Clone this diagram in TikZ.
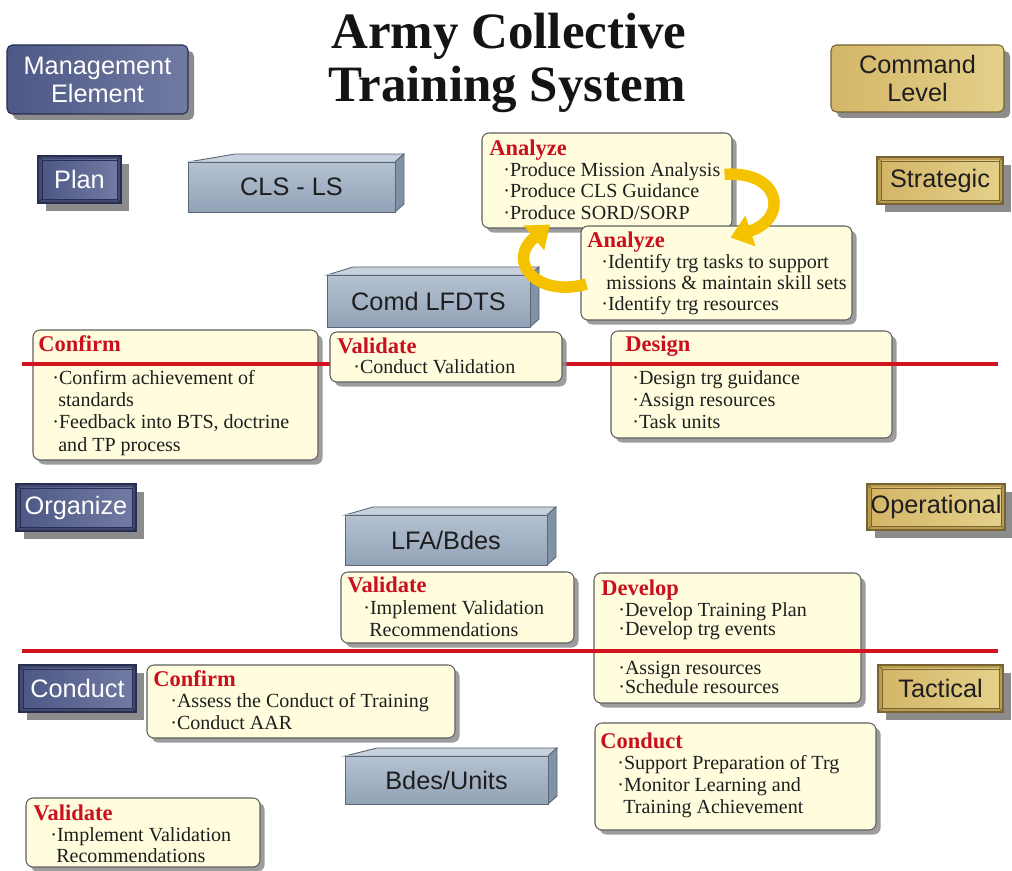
\documentclass[tikz,border=0pt]{standalone}
\usepackage{fontspec}
\setmainfont{Liberation Serif}
\setsansfont{Liberation Sans}
\usetikzlibrary{arrows.meta,fit,shadows,calc}
\definecolor{cNoteFill}{RGB}{255,253,222}
\definecolor{cNoteBord}{RGB}{95,95,95}
\definecolor{cHead}{RGB}{200,16,30}
\definecolor{cBody}{RGB}{30,30,30}
\definecolor{cLine}{RGB}{210,20,30}
\definecolor{cShadow}{RGB}{140,140,140}
\definecolor{cBlueDark}{RGB}{40,46,80}
\definecolor{cBlueEdge}{RGB}{66,74,112}
\definecolor{cBlueA}{RGB}{78,88,134}
\definecolor{cBlueB}{RGB}{112,122,162}
\definecolor{cGoldDark}{RGB}{120,100,50}
\definecolor{cGoldEdge}{RGB}{186,156,80}
\definecolor{cGoldA}{RGB}{212,182,104}
\definecolor{cGoldB}{RGB}{228,208,138}
\definecolor{cSlabTop}{RGB}{200,210,222}
\definecolor{cSlabA}{RGB}{180,194,210}
\definecolor{cSlabB}{RGB}{146,162,182}
\definecolor{cSlabSide}{RGB}{128,146,166}
\definecolor{cSlabEdge}{RGB}{92,102,116}
\definecolor{cArrow}{RGB}{245,194,0}
\definecolor{cTitle}{RGB}{20,20,20}
\tikzset{
  note/.style={draw=cNoteBord, fill=cNoteFill, rounded corners=4pt, line width=0.6pt, inner sep=0pt,
    drop shadow={shadow xshift=2.6pt, shadow yshift=-2.6pt, fill=cShadow, opacity=0.85}},
  hd/.style={anchor=base west, inner sep=0pt, text=cHead, font=\fontsize{12.8}{14}\selectfont\bfseries},
  bl/.style={anchor=base west, inner sep=0pt, text=cBody, font=\fontsize{11.4}{13}\selectfont},
  divider/.style={draw=cLine, line width=2.3pt},
  blueout/.style={fill=cBlueEdge, draw=cBlueDark, line width=0.6pt, inner sep=0pt},
  bluein/.style={left color=cBlueA, right color=cBlueB},
  blueedge/.style={draw=cBlueDark, line width=0.4pt},
  bluetxt/.style={text=white, align=center, font=\sffamily\fontsize{14.4}{16}\selectfont},
  goldout/.style={fill=cGoldEdge, draw=cGoldDark, line width=0.6pt, inner sep=0pt},
  goldin/.style={left color=cGoldA, right color=cGoldB},
  goldedge/.style={draw=cGoldDark, line width=0.4pt},
  goldtxt/.style={text=cBody, align=center, font=\sffamily\fontsize{14.4}{16}\selectfont},
  slabface/.style={top color=cSlabA, bottom color=cSlabB, draw=cSlabEdge, line width=0.5pt, inner sep=0pt},
  slabtxt/.style={text=cBody, font=\sffamily\fontsize{14.4}{16}\selectfont},
  yarrow/.style={draw=cArrow, line width=0.23cm, -{Triangle[width=0.62cm,length=0.42cm]}},
  titletxt/.style={anchor=base, text=cTitle, font=\fontsize{29}{31}\selectfont\bfseries}
}
% note box
\newcommand\notebox[5]{\node[note, fit={(#2,#3)(#4,#5)}] (#1) {};}
% bevelled label box: name, x1,y1,x2,y2, kind, text
\newcommand\bevelbox[7]{%
  \fill[cShadow] ({#2+8},{#3+8}) rectangle ({#4+8},{#5+8});
  \node[#6out, fit={(#2,#3)(#4,#5)}] (#1) {};
  \path[#6in] ({#2+4},{#3+4}) rectangle ({#4-4},{#5-4});
  \draw[#6edge] ({#2+4},{#3+4}) rectangle ({#4-4},{#5-4});
  \draw[#6edge] (#2,#3) -- ({#2+4},{#3+4}) (#4,#3) -- ({#4-4},{#3+4})
     (#2,#5) -- ({#2+4},{#5-4}) (#4,#5) -- ({#4-4},{#5-4});
  \node[#6txt] (#1t) at (#1.center) {#7};}
% slab: name, x1,y1,x2,y2, slant, text
\newcommand\slab[7]{%
  \filldraw[fill=cSlabTop, draw=cSlabEdge, line width=0.5pt] (#2,#3) -- ({#2+#6},{#3-8}) -- ({#4+9},{#3-8}) -- (#4,#3) -- cycle;
  \filldraw[fill=cSlabSide, draw=cSlabEdge, line width=0.5pt] (#4,#3) -- ({#4+9},{#3-8}) -- ({#4+9},{#5-8}) -- (#4,#5) -- cycle;
  \node[slabface, fit={(#2,#3)(#4,#5)}] (#1) {};
  \node[slabtxt] (#1t) at (#1.center) {#7};}
\begin{document}
\begin{tikzpicture}[x=0.02cm, y=-0.02cm]
\fill[white] (0,0) rectangle (1012,871);
\useasboundingbox (0,0) rectangle (1012,871);

% title
\node[titletxt] (title1) at (509,49) {Army Collective};
\node[titletxt] (title2) at (507,102) {Training System};

% header boxes
\fill[cShadow, rounded corners=3pt] (13,51) rectangle (194,120);
\node[fit={(7,45)(188,114)}, inner sep=0pt, rounded corners=3pt, draw=cBlueDark, line width=0.6pt,
  left color=cBlueA, right color=cBlueB] (mgmt) {};
\node[bluetxt] (mgmtt) at (mgmt.center) {Management\\Element};
\fill[cShadow, rounded corners=3pt] (837,51) rectangle (1010,118);
\node[fit={(831,45)(1004,112)}, inner sep=0pt, rounded corners=3pt, draw=cGoldDark, line width=0.6pt,
  left color=cGoldA, right color=cGoldB] (cmd) {};
\node[goldtxt] (cmdt) at (cmd.center) {Command\\Level};

% left / right labels
\bevelbox{plan}{38}{156}{121}{203}{blue}{Plan}
\bevelbox{organize}{16}{484}{136}{531}{blue}{Organize}
\bevelbox{conductl}{19}{665}{136}{712}{blue}{Conduct}
\bevelbox{strategic}{877}{157}{1003}{204}{gold}{Strategic}
\bevelbox{operational}{867}{484}{1005}{530}{gold}{Operational}
\bevelbox{tactical}{878}{665}{1003}{712}{gold}{Tactical}

% slabs
\slab{clsls}{188}{162}{395}{212}{47}{CLS - LS}
\slab{comd}{327}{275}{530}{327}{26}{Comd LFDTS}
\slab{lfa}{345}{515}{547}{565}{28}{LFA/Bdes}
\slab{bdes}{345}{756}{548}{804}{32}{Bdes/Units}

% note boxes
\notebox{an1}{482}{133}{732}{228}
\node[hd] (an1h) at (489,156) {Analyze};
\node[bl] (an1a) at (503,177) {·Produce Mission Analysis};
\node[bl] (an1b) at (503,198) {·Produce CLS Guidance};
\node[bl] (an1c) at (503,220) {·Produce SORD/SORP};

\notebox{an2}{581}{226}{852}{320}
\node[hd] (an2h) at (587,248) {Analyze};
\node[bl] (an2a) at (601,269) {·Identify trg tasks to support};
\node[bl] (an2b) at (606,290) {missions \& maintain skill sets};
\node[bl] (an2c) at (601,311) {·Identify trg resources};

\notebox{cf1}{33}{330}{318}{460}
\node[hd] (cf1h) at (38,352) {Confirm};
\node[bl] (cf1a) at (52,385) {·Confirm achievement of};
\node[bl] (cf1b) at (58,407) {standards};
\node[bl] (cf1c) at (52,429) {·Feedback into BTS, doctrine};
\node[bl] (cf1d) at (58,452) {and TP process};

\notebox{des}{611}{331}{892}{438}
\node[hd] (desh) at (625,352) {Design};
\node[bl] (desa) at (632,385) {·Design trg guidance};
\node[bl] (desb) at (632,407) {·Assign resources};
\node[bl] (desc) at (632,429) {·Task units};

\draw[divider] (22,364) -- (998,364);

\notebox{va1}{330}{332}{562}{382}
\node[hd] (va1h) at (337,354) {Validate};
\node[bl] (va1a) at (353,374) {·Conduct Validation};

\notebox{va2}{341}{572}{574}{643}
\node[hd] (va2h) at (347,593) {Validate};
\node[bl] (va2a) at (363,615) {·Implement Validation};
\node[bl] (va2b) at (369,637) {Recommendations};

\notebox{dev}{594}{573}{861}{703}
\node[hd] (devh) at (601,596) {Develop};
\node[bl] (deva) at (618,617) {·Develop Training Plan};
\node[bl] (devb) at (618,636) {·Develop trg events};
\node[bl] (devc) at (618,675) {·Assign resources};
\node[bl] (devd) at (618,694) {·Schedule resources};

\draw[divider] (22,651) -- (998,651);

\notebox{cf2}{147}{665}{455}{738}
\node[hd] (cf2h) at (153,687) {Confirm};
\node[bl] (cf2a) at (170,708) {·Assess the Conduct of Training};
\node[bl] (cf2b) at (170,730) {·Conduct AAR};

\notebox{cdr}{595}{723}{876}{830}
\node[hd] (cdrh) at (600,748) {Conduct};
\node[bl] (cdra) at (617,769) {·Support Preparation of Trg};
\node[bl] (cdrb) at (617,791) {·Monitor Learning and};
\node[bl] (cdrc) at (623,813) {Training Achievement};

\notebox{va3}{26}{798}{260}{867}
\node[hd] (va3h) at (33,821) {Validate};
\node[bl] (va3a) at (50,842) {·Implement Validation};
\node[bl] (va3b) at (56,863) {Recommendations};

% cycle arrows
\draw[yarrow] ($(an1.east)+(-8,-6)$) .. controls (780,170) and (790,218) .. ($(an2.north)+(14,12)$);
\draw[yarrow] ($(an2.west)+(6,11)$) .. controls (538,298) and (505,262) .. ($(an1.south)+(-57,-4)$);
\end{tikzpicture}
\end{document}
